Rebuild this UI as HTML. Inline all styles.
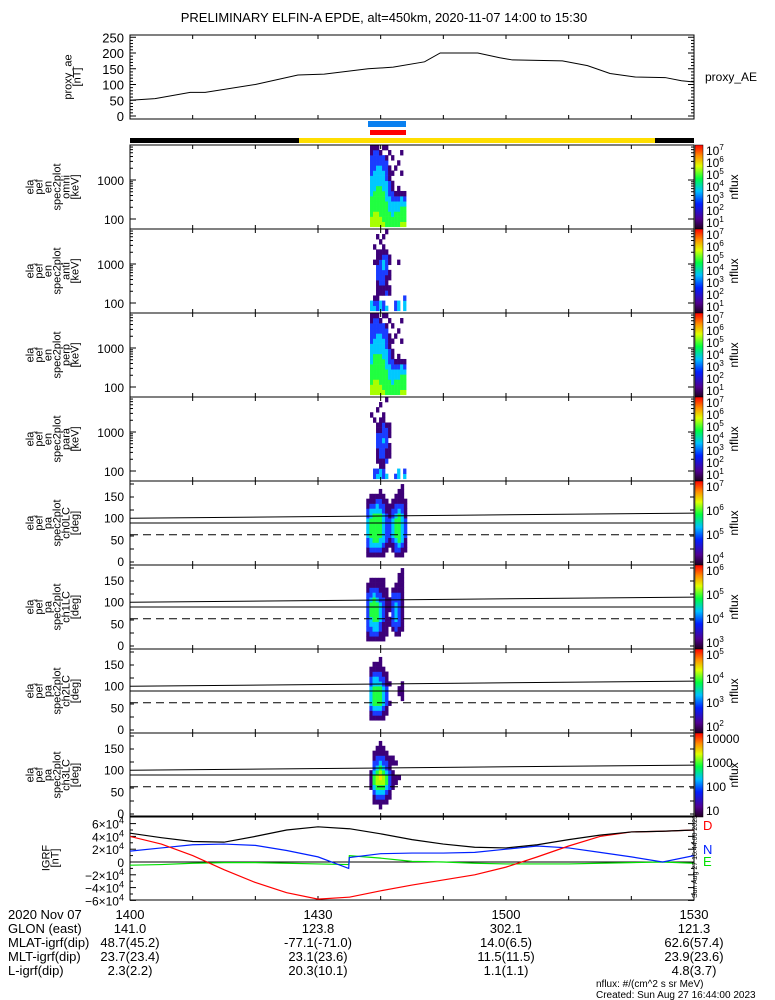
<!DOCTYPE html>
<html><head><meta charset="utf-8"><style>
body{margin:0;background:#fff;}
svg{display:block;font-family:"Liberation Sans",sans-serif;}
</style></head><body>
<svg id="c" width="775" height="1000" viewBox="0 0 775 1000" xmlns="http://www.w3.org/2000/svg">
<defs>
<linearGradient id="cb" x1="0" y1="1" x2="0" y2="0">
<stop offset="0" stop-color="#200020"/><stop offset="0.12" stop-color="#500090"/><stop offset="0.3" stop-color="#0020ff"/><stop offset="0.45" stop-color="#00c0ff"/><stop offset="0.6" stop-color="#00ff40"/><stop offset="0.75" stop-color="#e0ff00"/><stop offset="0.87" stop-color="#ff9000"/><stop offset="1" stop-color="#ff0000"/>
</linearGradient>
<clipPath id="gclip"><rect x="130" y="816" width="564" height="84"/></clipPath>
</defs>
<text x="384" y="22" text-anchor="middle" font-size="13">PRELIMINARY ELFIN-A EPDE, alt=450km, 2020-11-07 14:00 to 15:30</text>
</svg>
<script>
// ---- data ----
const aeTimes=[0,4,9.6,12,20,26.8,31,38,42,47,49.5,55.5,59,61,69,73,76.6,80.6,85.4,88,90];
const aeValues=[50,55,75,75,100,130,133,150,155,172,200,200,185,178,175,160,135,124,122,112,108];
const aeTicks=[0,50,100,150,200,250];
// IGRF values in units of 1000 nT
const igrfTimes=[0,5,10,15,20,25,30,34.9,35,40,45,50,55,60,65,70,75,80,85,90];
const igrfTotal=[45,38,32,31,40,50,55,52,52,44,35,28,23,22,27,35,42,47,48,50];
const igrfD=[40,28,10,-12,-32,-48,-58,-55,-55,-45,-36,-28,-20,-8,8,25,40,47,48,50];
const igrfN=[17,22,27,28,26,18,8,-10,7,13,14,14,15,20,25,22,15,8,0,10];
const igrfE=[-5,-4,-2,-1,-1,-2,-3,-4,10,6,1,0,-2,-3,-3,-3,-2,-1,0,-2];
const igrfTicks=[-60,-40,-20,0,20,40,60];
const timeLabels=["1400","1430","1500","1530"];
const labelTimes=[0,30,60,90];
const glon=["141.0","123.8","302.1","121.3"];
const mlat=["48.7(45.2)","-77.1(-71.0)","14.0(6.5)","62.6(57.4)"];
const mlt=["23.7(23.4)","23.1(23.6)","11.5(11.5)","23.9(23.6)"];
const lshell=["2.3(2.2)","20.3(10.1)","1.1(1.1)","4.8(3.7)"];
const specStart=38.3, specStep=0.48;
const specOmni=["5544443333222211","5554444333322221","5554444433332221","5544444433332210","5444444333322201","4444433332222101","4443332221110010","4433322110100100","4443321000010000","4443321100001000","5444331000100010","5444321000000000"];
const specAnti=["3300000000000000","3210000001001000","2211112221110010","3301122222110100","2201122233211010","3002111222210001","0001101101100000","0000000000000000","2200000000000000","3300000001000000","0000000000000000","3320000000000000"];
const specPerp=["5544443333222211","5554444433322221","5554444433332221","5544444433332210","5444444333322201","4444433332222101","4443332221110010","4433322110100100","4443321000010000","4443321100001000","5444331000100010","5444321000000000"];
const specPara=["0000000000001000","2200000000010000","3201112221100100","3311222221110010","2211222322211000","3002112222100001","0000111011100000","0000000000000000","2000000000000000","3300000000000000","0000000000000000","3200000000000000"];
const paStart=37.7, paStep=0.5;
const pa0=["0112233332211000","0123344443321100","0123444444321100","0123444444332100","0123344444322110","0112333333221100","0011222222111000","0001122221110000","0011233332211000","0122344443221100","0123444444321110","0112333333221111","0011122221111000"];
const pa1=["0112222222211000","0122334443221100","0123344444321100","0123344443221100","0112233332211100","0111122222111100","0011111111110000","0000110111000000","0001222222210000","0012233332211000","0011222222211110","0001111111111111","0000000000000000"];
const pa2=["0000000000000000","0011233332211000","0012344443321100","0012344443321100","0012344443221110","0011233332211000","0001122221110000","0000010001000000","0000000000000000","0000000000000000","0000000110000000","0000001111000000","0000000000000000"];
const pa3=["0000000000000000","0000011110000000","0011234432211000","0012345543221100","0112345654321110","0012345543221100","0011234432211000","0001122221110000","0000011110110000","0000001100100000","0000000100000000","0000000000000000","0000000000000000"];
const pa90=[90,90];
const paTop=[101,113];
const paDash=[63,63];

// ---- helpers ----
const S=document.getElementById('c'),NS='http://www.w3.org/2000/svg';
const X0=130,X1=694;
const xT=t=>X0+t*(X1-X0)/90;
function mk(tag,a,parent){const e=document.createElementNS(NS,tag);for(const k in a)e.setAttribute(k,a[k]);(parent||S).appendChild(e);return e;}
function txt(x,y,s,a){const e=mk('text',Object.assign({x:x,y:y,'font-size':12},a||{}));e.textContent=s;return e;}
const pal=['none','#3c0078','#1a3cff','#00c8ff','#20ff40','#a8ff00','#ffe000','#ff8000','#ff0000'];
function frame(top,bot,name){
  const r=mk('rect',{x:X0,y:top,width:X1-X0,height:bot-top,fill:'none',stroke:'#000','stroke-width':1});
  
  
  for(let i=1;i<9;i++){const x=X0+i*(X1-X0)/9;mk('line',{x1:x,x2:x,y1:top,y2:top+4,stroke:'#000'});mk('line',{x1:x,x2:x,y1:bot,y2:bot-4,stroke:'#000'});}
}
function yticks(top,bot,n){for(let i=0;i<=n;i++){const y=top+(bot-top)*i/n;mk('line',{x1:X0,x2:X0+4,y1:y,y2:y,stroke:'#000'});mk('line',{x1:X1,x2:X1-4,y1:y,y2:y,stroke:'#000'});}}
function ylabel(lines,cx,cy,name){
  const g=mk('g',{transform:`translate(${cx},${cy}) rotate(-90)`});
  
  
  lines.forEach((l,i)=>{const t=mk('text',{x:0,y:(i-(lines.length-1)/2)*9+4,'font-size':11,'text-anchor':'middle'},g);t.textContent=l;});
}
function colorbar(top,bot,labels,name){
  const r=mk('rect',{x:695,y:top,width:8,height:bot-top,fill:'url(#cb)',stroke:'#000','stroke-width':0.5});
  
  
  labels.forEach((l,i)=>{const y=top+6+(bot-top-12)*i/(labels.length-1);
    const t=txt(706,y+4,'',{'font-size':12});
    if(l[1]!==null){t.textContent='10';const s=mk('tspan',{dy:-5,'font-size':8},t);s.textContent=l[1];}else t.textContent=l[0];});
  txt(0,0,'nflux',{'font-size':12,'text-anchor':'middle',transform:`translate(738,${(top+bot)/2}) rotate(-90)`});
}
function drawSpec(mat,top,name){
  const g=mk('g',{});
  const y1000=top+35,dec=39,lo=1.8,hi=3.9,n=16,bh=(hi-lo)/n;
  mat.forEach((col,ci)=>{const xa=xT(specStart+ci*specStep),xb=xT(specStart+(ci+1)*specStep);
    for(let ri=0;ri<n;ri++){const d=+col[ri];if(!d)continue;const e0=lo+ri*bh,e1=e0+bh;
      const ya=y1000+(3-e1)*dec,yb=y1000+(3-e0)*dec;
      const r=mk('rect',{x:xa,y:ya,width:xb-xa+0.3,height:yb-ya+0.3,fill:pal[d]},g);
      
      }});
}
function drawPA(mat,top,name){
  const g=mk('g',{});
  const y0=top+81,sc=0.433;const yP=p=>y0-p*sc;
  mat.forEach((col,ci)=>{const xa=xT(paStart+ci*paStep),xb=xT(paStart+(ci+1)*paStep);
    for(let ri=0;ri<16;ri++){const d=+col[ri];if(!d)continue;
      const r=mk('rect',{x:xa,y:yP((ri+1)*11.25),width:xb-xa+0.3,height:11.25*sc+0.3,fill:pal[d]},g);
      
      }});
  const l1=mk('line',{x1:X0,x2:X1,y1:yP(pa90[0]),y2:yP(pa90[1]),stroke:'#000'});
  
  const l2=mk('line',{x1:X0,x2:X1,y1:yP(paTop[0]),y2:yP(paTop[1]),stroke:'#000'});
  
  const l3=mk('line',{x1:X0,x2:X1,y1:yP(paDash[0]),y2:yP(paDash[1]),stroke:'#000','stroke-dasharray':'8,5'});
  
  [0,50,100,150].forEach(v=>txt(124,yP(v)+4,String(v),{'text-anchor':'end','font-size':12}));
}

// ---- proxy AE panel ----
const aeTop=35,aeBot=119,yAE=v=>116-v*0.315;
frame(aeTop,aeBot,'proxy-ae');
for(let v=0;v<=250;v+=10){const y=yAE(v),w=v%50===0?6:3;mk('line',{x1:X0,x2:X0+w,y1:y,y2:y,stroke:'#000'});mk('line',{x1:X1,x2:X1-w,y1:y,y2:y,stroke:'#000'});}
aeTicks.forEach(v=>txt(124,yAE(v)+5,String(v),{'text-anchor':'end','font-size':13}));
const aeL=mk('polyline',{points:aeTimes.map((t,i)=>xT(t)+','+yAE(aeValues[i])).join(' '),fill:'none',stroke:'#000'});

ylabel(['proxy_ae','[nT]'],72,77,'proxy-ae-axis-title');
txt(705,81,'proxy_AE',{'font-size':12});

// ---- science zone bars ----
let b=mk('rect',{x:368,y:121,width:38,height:6,fill:'#0a80f0'});
b=mk('rect',{x:370,y:130,width:36,height:5,fill:'#ff0000'});
b=mk('rect',{x:X0,y:138,width:X1-X0,height:5,fill:'#000'});
b=mk('rect',{x:299,y:138,width:356,height:5,fill:'#ffde00'});

// ---- energy spectrogram panels ----
const ePanels=[[145,specOmni,'omni'],[229,specAnti,'anti'],[313,specPerp,'perp'],[397,specPara,'para']];
ePanels.forEach(([top,mat,nm])=>{
  drawSpec(mat,top,'energy-'+nm);
  frame(top,top+84,'energy-'+nm);
  const y1000=top+35;
  for(let dd=-1;dd<=1;dd++)for(let m=1;m<10;m++){const y=y1000-(dd+Math.log10(m))*39;if(y<top||y>top+84)continue;const w=m===1?6:3;mk('line',{x1:X0,x2:X0+w,y1:y,y2:y,stroke:'#000'});mk('line',{x1:X1,x2:X1-w,y1:y,y2:y,stroke:'#000'});}
  txt(124,y1000+5,'1000',{'text-anchor':'end','font-size':12});
  txt(124,y1000+44,'100',{'text-anchor':'end','font-size':12});
  ylabel(['ela','pef','en','spec2plot',nm,'[keV]'],52,top+42,'energy-'+nm+'-axis-title');
  colorbar(top,top+84,[['',7],['',6],['',5],['',4],['',3],['',2],['',1]],'energy-'+nm);
});

// ---- pitch angle panels ----
const pPanels=[[481,pa0,'ch0LC',[['',7],['',6],['',5],['',4]]],[565,pa1,'ch1LC',[['',6],['',5],['',4],['',3]]],[649,pa2,'ch2LC',[['',5],['',4],['',3],['',2]]],[733,pa3,'ch3LC',[['10000',null],['1000',null],['100',null],['10',null]]]];
pPanels.forEach(([top,mat,nm,lab])=>{
  drawPA(mat,top,'pa-'+nm);
  frame(top,top+84,'pa-'+nm);
  yticks(top+3,top+81,6);
  ylabel(['ela','pef','pa','spec2plot',nm,'[deg]'],52,top+42,'pa-'+nm+'-axis-title');
  colorbar(top,top+84,lab,'pa-'+nm);
});

// ---- IGRF panel ----
const gTop=816,gBot=900,yG=v=>862-v*0.64;
frame(gTop,gBot,'igrf');
for(let v=-60;v<=60;v+=10){const y=yG(v),w=v%20===0?6:3;mk('line',{x1:X0,x2:X0+w,y1:y,y2:y,stroke:'#000'});mk('line',{x1:X1,x2:X1-w,y1:y,y2:y,stroke:'#000'});}
igrfTicks.forEach(v=>{const t=txt(124,yG(v)+5,'',{'text-anchor':'end','font-size':12});
  if(v===0)t.textContent='0';else{t.textContent=(v<0?'\u2212':'')+Math.abs(v/10)+'\u00d710';const s=mk('tspan',{dy:-5,'font-size':9},t);s.textContent='4';}});
mk('line',{x1:X0,x2:X1,y1:yG(0),y2:yG(0),stroke:'#000'});
const gg=mk('g',{'clip-path':'url(#gclip)'});


[[igrfE,'#00e000','igrf-e-line'],[igrfN,'#0020ff','igrf-n-line'],[igrfD,'#ff0000','igrf-d-line'],[igrfTotal,'#000','igrf-total-line']].forEach(([arr,c,nm])=>{
  const l=mk('polyline',{points:igrfTimes.map((t,i)=>xT(t)+','+yG(arr[i])).join(' '),fill:'none',stroke:c,'stroke-width':1.2},gg);
  
  
});
ylabel(['IGRF','[nT]'],50,858,'igrf-axis-title');
txt(703,830,'D',{fill:'#ff0000','font-size':13});
txt(703,854,'N',{fill:'#0020ff','font-size':13});
txt(703,866,'E',{fill:'#00e000','font-size':13});
txt(0,0,'Sun Aug 27 16:44:00 2023',{'font-size':7,transform:'translate(697,898) rotate(-90)'});

// ---- bottom annotation ----
const rows=[['2020 Nov 07',timeLabels],['GLON (east)',glon],['MLAT-igrf(dip)',mlat],['MLT-igrf(dip)',mlt],['L-igrf(dip)',lshell]];
rows.forEach(([lab,vals],ri)=>{const y=919+ri*14;
  const t=txt(8,y,lab,{'font-size':13});
  vals.forEach((v,i)=>{const x=xT(labelTimes[i]);txt(x,y,v,{'font-size':13,'text-anchor':'middle'});});});
txt(596,987,'nflux: #/(cm^2 s sr MeV)',{'font-size':10});
txt(596,998,'Created: Sun Aug 27 16:44:00 2023',{'font-size':10});
</script>
</body></html>
